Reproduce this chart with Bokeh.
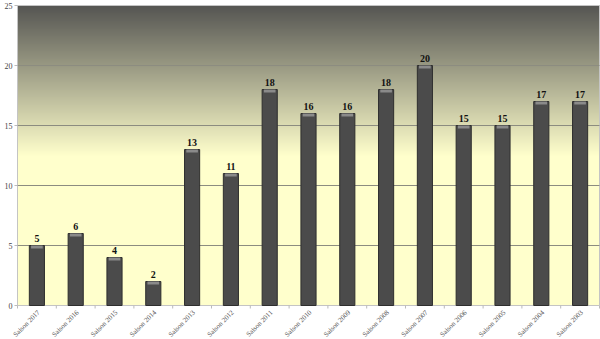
import numpy as np
from bokeh.plotting import figure
from bokeh.models import ColumnDataSource, Range1d
from bokeh.core.properties import value
from bokeh.embed import file_html
from bokeh.resources import INLINE

seasons = ["Saison 2017", "Saison 2016", "Saison 2015", "Saison 2014", "Saison 2013",
           "Saison 2012", "Saison 2011", "Saison 2010", "Saison 2009", "Saison 2008",
           "Saison 2007", "Saison 2006", "Saison 2005", "Saison 2004", "Saison 2003"]
counts = [5, 6, 4, 2, 13, 11, 18, 16, 16, 18, 20, 15, 15, 17, 17]
y_ticks = [0, 5, 10, 15, 20, 25]

n = len(seasons)
xs = list(range(n))
ymax = y_ticks[-1]

# canvas / plot-area geometry (pixels)
W, Hc = 600, 339
PL, PR, PT, PB = 17, 1, 5, 34          # plot-area margins inside the canvas
ux = (W - PL - PR) / n                 # px per category
uy = (Hc - PT - PB) / ymax             # px per unit of value

src = ColumnDataSource(dict(x=xs, top=counts, label=[str(c) for c in counts],
                            cap=[c - 0.25 for c in counts], season=seasons,
                            base=[0] * n))

p = figure(width=W, height=Hc, output_backend="svg", toolbar_location=None,
           x_range=Range1d(-0.5 - PL / ux, n - 0.5 + PR / ux),
           y_range=Range1d(-PB / uy, ymax + PT / uy),
           min_border_left=0, min_border_right=0, min_border_top=0, min_border_bottom=0)
p.xaxis.visible = False
p.yaxis.visible = False
p.grid.visible = False
p.outline_line_color = None
p.background_fill_color = "white"
p.border_fill_color = "white"

# background gradient of the plot area (decoration)
H = 300
top_c = np.array([0x56, 0x56, 0x53])
bot_c = np.array([0xff, 0xff, 0xcc])
img = np.empty((H, 1), dtype=np.uint32)
view = img.view(dtype=np.uint8).reshape((H, 1, 4))
rows = np.arange(H) / (H - 1)  # 0 bottom .. 1 top
f = np.clip((rows - 0.5) / 0.5, 0, 1)
for i in range(H):
    c = bot_c + (top_c - bot_c) * f[i]
    view[i, 0, 0:3] = c.astype(np.uint8)
    view[i, 0, 3] = 255
p.image_rgba(image=[img], x=-0.5, y=0, dw=n, dh=ymax, level="image")

# plot-area border (axis lines)
p.quad(left=-0.5, right=n - 0.5, bottom=0, top=ymax, fill_color=None,
       line_color="#c4c4c4", line_width=1)

# horizontal gridlines
inner = [t for t in y_ticks if 0 < t < ymax]
p.segment(x0=[-0.5] * len(inner), x1=[n - 0.5] * len(inner), y0=inner, y1=inner,
          line_color="#8c8c80", line_width=1)

# y ticks and labels
p.segment(x0=[-0.5 - 3 / ux] * len(y_ticks), x1=[-0.5] * len(y_ticks),
          y0=y_ticks, y1=y_ticks, line_color="#bbbbbb", line_width=1)
p.text(x=[-0.5] * len(y_ticks), y=y_ticks, text=[str(t) for t in y_ticks],
       x_offset=-5, text_align="right", text_baseline="middle",
       text_font=value("Liberation Serif"), text_font_size="8px", text_color="#444444")

# x ticks between categories
bounds = [i + 0.5 for i in range(-1, n)]
p.segment(x0=bounds, x1=bounds, y0=[0] * len(bounds), y1=[-3 / uy] * len(bounds),
          line_color="#bbbbbb", line_width=1)

# bars
p.vbar(x="x", top="top", bottom=0, width=0.39, source=src,
       fill_color="#4b4b4b", line_color="#2e2e2e", line_width=1)
p.vbar(x="x", top="top", bottom="cap", width=0.3, source=src,
       fill_color="#8a8a8a", line_color=None)

# value labels
p.text(x="x", y="top", text="label", source=src, text_align="center",
       text_baseline="bottom", y_offset=-4, text_font=value("Liberation Serif"),
       text_font_style="bold", text_font_size="10px", text_color="#111111")

# rotated category labels
p.text(x="x", y="base", text="season", source=src, angle=np.pi / 4,
       text_align="right", text_baseline="middle", x_offset=2, y_offset=6,
       text_font=value("Liberation Serif"), text_font_size="7px",
       text_color="#555555")

open("out.html", "w").write(file_html(p, INLINE))
